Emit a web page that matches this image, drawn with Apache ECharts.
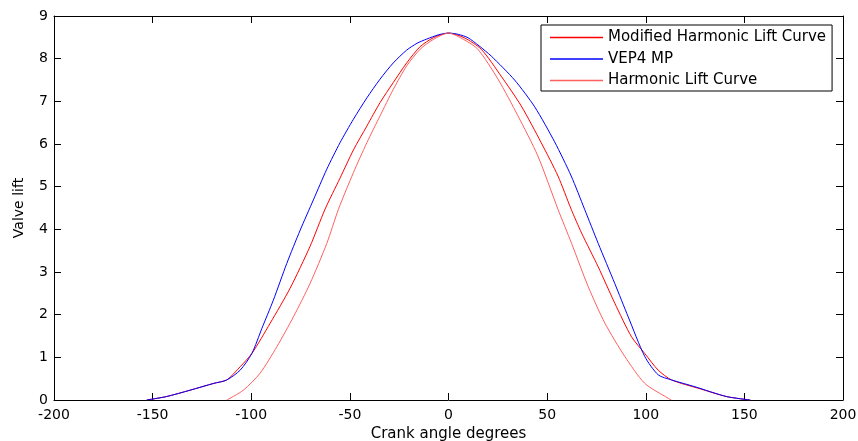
<!DOCTYPE html>
<html>
<head>
<meta charset="utf-8">
<script src="https://cdn.jsdelivr.net/npm/echarts@6/dist/echarts.min.js"></script>
<style>html,body{margin:0;padding:0;background:#fff;}#c{width:858px;height:441px;}</style>
</head>
<body>
<div id="c"></div>
<script>
// X tick range
const xTicks = [-200, -150, -100, -50, 0, 50, 100, 150, 200];
const yTicks = [0, 1, 2, 3, 4, 5, 6, 7, 8, 9];

const seriesNames = ["Modified Harmonic Lift Curve", "VEP4 MP", "Harmonic Lift Curve"];

// Modified Harmonic Lift Curve
const modAngle = [-153, -143, -131, -119, -112.4, -105.6, -99.7, -90.4, -80.3, -70.2, -62.6, -55, -48.2, -41.4, -34.7, -28, -21.2, -14.4, -7.7, 0, 8, 16.6, 26.7, 36.9, 47, 55.5, 62.2, 67.5, 75.9, 84.3, 92.8, 99.5, 106.3, 113.1, 127, 141, 153];
const modLift  = [0, 0.08, 0.23, 0.39, 0.47, 0.78, 1.09, 1.8, 2.62, 3.6, 4.47, 5.2, 5.86, 6.42, 6.97, 7.44, 7.9, 8.28, 8.49, 8.6, 8.49, 8.22, 7.59, 6.89, 6.03, 5.25, 4.47, 3.91, 3.12, 2.27, 1.48, 1.09, 0.70, 0.47, 0.27, 0.08, 0];

// VEP4 MP
const vepAngle = [-153, -143, -131, -119, -112.4, -105.6, -99.7, -94.6, -88.8, -82, -75.2, -68.5, -61.7, -55, -48.2, -41.4, -34.7, -28, -21.2, -16, -11, -5, 0, 5, 9.9, 15.5, 21.7, 33.5, 43.7, 53.8, 62.2, 69, 75.9, 84.3, 91.1, 99.5, 106.3, 113.1, 125, 141, 153];
const vepLift  = [0, 0.08, 0.23, 0.39, 0.47, 0.70, 1.09, 1.68, 2.34, 3.2, 3.98, 4.69, 5.41, 6.03, 6.58, 7.08, 7.52, 7.9, 8.2, 8.36, 8.46, 8.56, 8.6, 8.57, 8.49, 8.3, 8.06, 7.5, 6.87, 6.05, 5.25, 4.47, 3.67, 2.73, 1.95, 1.02, 0.59, 0.47, 0.31, 0.08, 0];

// Harmonic Lift Curve
const harAngle = [-112.4, -104, -95.5, -87, -78.6, -70.2, -61.7, -55.8, -48.2, -41.4, -34.7, -28, -21.2, -14.4, -7.7, 0, 7.7, 14.9, 25.1, 35.2, 45.3, 55.5, 62.4, 70.8, 79.3, 89.4, 99.5, 111.4, 113];
const harLift  = [0, 0.23, 0.63, 1.25, 1.95, 2.73, 3.67, 4.47, 5.33, 6.03, 6.66, 7.28, 7.83, 8.22, 8.45, 8.6, 8.45, 8.22, 7.52, 6.66, 5.72, 4.47, 3.67, 2.66, 1.8, 1.02, 0.39, 0.04, 0];

const pairs = (a, b) => a.map((v, i) => [v, b[i]]);
const FONT = "DejaVu Sans";
const AX = '#000';
const colors = ['#ff0000', '#0000ff', '#ff6060'];

const chart = echarts.init(document.getElementById('c'), null, {renderer: 'canvas'});
const xCommon = {
  type: 'value', min: xTicks[0], max: xTicks[xTicks.length - 1], interval: 50,
  splitLine: {show: false},
  axisLine: {show: true, onZero: false, lineStyle: {color: AX, width: 1}},
  axisTick: {show: true, inside: true, length: 7, lineStyle: {color: AX}}
};
const yCommon = {
  type: 'value', min: yTicks[0], max: yTicks[yTicks.length - 1], interval: 1,
  splitLine: {show: false},
  axisLine: {show: true, onZero: false, lineStyle: {color: AX, width: 1}},
  axisTick: {show: true, inside: true, length: 7, lineStyle: {color: AX}}
};
const line = (name, data, color) => ({
  name, type: 'line', data, symbol: 'none', showSymbol: false,
  smooth: 0.25,
  color: color,
  lineStyle: {color, width: 1}, itemStyle: {color},
  animation: false, xAxisIndex: 0, yAxisIndex: 0
});
chart.setOption({
  animation: false,
  backgroundColor: '#fff',
  color: colors,
  grid: {left: 54, right: 15, top: 16, bottom: 41, containLabel: false, outerBoundsMode: 'none'},
  legend: {
    orient: 'vertical', left: 541, top: 25,
    data: seriesNames,
    icon: 'rect',
    itemWidth: 53, itemHeight: 1.5, itemGap: 4.5,
    padding: [4, 6, 2, 9],
    borderColor: '#000', borderWidth: 1, backgroundColor: '#fff',
    textStyle: {fontFamily: FONT, fontSize: 15, lineHeight: 17, color: '#000'}
  },
  xAxis: [
    Object.assign({}, xCommon, {
      position: 'bottom',
      name: 'Crank angle degrees', nameLocation: 'middle', nameGap: 27,
      nameTextStyle: {fontFamily: FONT, fontSize: 15, color: '#000'},
      axisLabel: {fontFamily: FONT, fontSize: 14, color: '#000', margin: 8}
    }),
    Object.assign({}, xCommon, {position: 'top', axisLabel: {show: false}})
  ],
  yAxis: [
    Object.assign({}, yCommon, {
      position: 'left',
      name: 'Valve lift', nameLocation: 'middle', nameGap: 28,
      nameTextStyle: {fontFamily: FONT, fontSize: 14, color: '#000'},
      axisLabel: {fontFamily: FONT, fontSize: 14, color: '#000', margin: 6}
    }),
    Object.assign({}, yCommon, {position: 'right', axisLabel: {show: false}})
  ],
  series: [
    line(seriesNames[0], pairs(modAngle, modLift), colors[0]),
    line(seriesNames[1], pairs(vepAngle, vepLift), colors[1]),
    line(seriesNames[2], pairs(harAngle, harLift), colors[2])
  ]
});
</script>
</body>
</html>
